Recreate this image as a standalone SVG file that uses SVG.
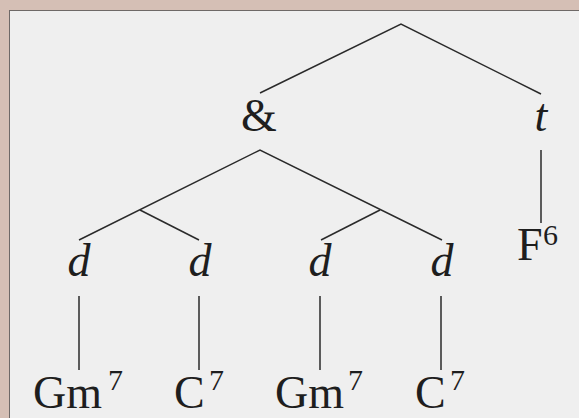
<svg xmlns="http://www.w3.org/2000/svg" width="579" height="418" viewBox="0 0 579 418">
<style>
.e{stroke:#2a2a2a;stroke-width:1.5;fill:none;stroke-linecap:butt}
text{font-family:"Liberation Serif","DejaVu Serif",serif;font-size:46px;fill:#1e1e1e}
.i{font-style:italic}
.s{font-size:30px}
</style>
<rect x="0" y="0" width="579" height="418" fill="#d5bfb5"/>
<rect x="9" y="10" width="570" height="408" fill="#6e6967"/>
<rect x="10" y="11" width="569" height="407" fill="#efefef"/>
<g id="connectors">
<polyline class="e" points="260,93 401,24 541,94"/>
<polyline class="e" points="79,240 260,150 442,240"/>
<line class="e" x1="140" y1="210" x2="199" y2="240"/>
<line class="e" x1="380" y1="210" x2="321" y2="240"/>
<line class="e" x1="541" y1="150" x2="541" y2="223"/>
<line class="e" x1="79" y1="296" x2="79" y2="370"/>
<line class="e" x1="199" y1="296" x2="199" y2="370"/>
<line class="e" x1="320" y1="296" x2="320" y2="370"/>
<line class="e" x1="441" y1="296" x2="441" y2="370"/>
</g>
<g id="amp"><text x="259" y="131" text-anchor="middle">&amp;</text></g>
<g id="t"><text class="i" x="541" y="131" text-anchor="middle">t</text></g>
<g id="d1"><text class="i" x="79" y="276" text-anchor="middle">d</text></g>
<g id="d2"><text class="i" x="200" y="276" text-anchor="middle">d</text></g>
<g id="d3"><text class="i" x="320" y="276" text-anchor="middle">d</text></g>
<g id="d4"><text class="i" x="442" y="276" text-anchor="middle">d</text></g>
<g id="F6"><text x="517" y="260">F<tspan class="s" x="543" y="245">6</tspan></text></g>
<g id="Gm7a"><text x="33" y="408">Gm<tspan class="s" x="108" y="390">7</tspan></text></g>
<g id="C7a"><text x="174" y="408">C<tspan class="s" x="209" y="390">7</tspan></text></g>
<g id="Gm7b"><text x="275" y="408">Gm<tspan class="s" x="348" y="390">7</tspan></text></g>
<g id="C7b"><text x="415" y="408">C<tspan class="s" x="450" y="390">7</tspan></text></g>
</svg>
